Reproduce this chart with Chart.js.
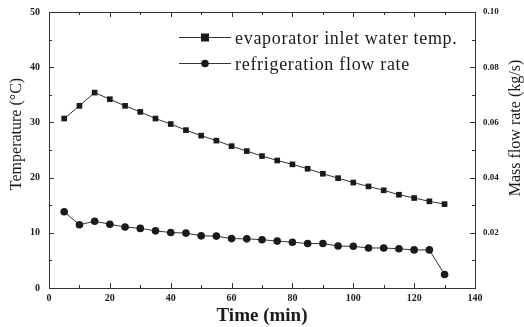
<!DOCTYPE html>
<html>
<head>
<meta charset="utf-8">
<script src="https://cdn.jsdelivr.net/npm/chart.js@4.4.1/dist/chart.umd.min.js"></script>
<style>
  html, body { margin: 0; padding: 0; background: #fff; }
  #wrap { width: 524px; height: 327px; }
</style>
</head>
<body>
<div id="wrap"><canvas id="chart"></canvas></div>
<script>
// time in minutes
const times = [5, 10, 15, 20, 25, 30, 35, 40, 45, 50, 55, 60, 65, 70, 75, 80, 85, 90, 95, 100, 105, 110, 115, 120, 125, 130];
// evaporator inlet water temp (C)
const inletTemp = [30.7, 33.0, 35.4, 34.2, 33.0, 31.9, 30.7, 29.7, 28.6, 27.6, 26.7, 25.7, 24.8, 23.9, 23.1, 22.4, 21.6, 20.7, 19.9, 19.1, 18.4, 17.7, 16.9, 16.3, 15.7, 15.2];
// refrigeration flow rate (kg/s)
const flowRate = [0.0276, 0.0229, 0.0242, 0.0231, 0.0221, 0.0216, 0.0207, 0.0201, 0.0199, 0.0189, 0.0188, 0.0179, 0.0178, 0.0175, 0.0170, 0.0166, 0.0161, 0.0161, 0.0152, 0.0151, 0.0145, 0.0145, 0.0142, 0.0138, 0.0138, 0.0049];

const seriesNames = ['evaporator inlet water temp.', 'refrigeration flow rate'];
const xTicks = [0, 20, 40, 60, 80, 100, 120, 140];
const tempTicks = [0, 10, 20, 30, 40, 50];
const flowTicks = [0.02, 0.04, 0.06, 0.08, 0.10];

const SERIF = '"Liberation Serif", "DejaVu Serif", serif';
const INK = '#1a1a1a';

// frame + inward ticks on all four sides, and the two side titles
const framePlugin = {
  id: 'frame',
  afterDraw(chart) {
    const { ctx, chartArea: a, scales } = chart;
    ctx.save();
    ctx.strokeStyle = '#333';
    ctx.lineWidth = 1;
    ctx.strokeRect(a.left + 0.5, a.top + 0.5, a.right - a.left, a.bottom - a.top);
    ctx.beginPath();
    for (let v = 0; v <= 140; v += 10) {
      const px = Math.round(scales.x.getPixelForValue(v)) + 0.5;
      const len = v % 20 === 0 ? 5 : 3;
      ctx.moveTo(px, a.bottom); ctx.lineTo(px, a.bottom - len);
      ctx.moveTo(px, a.top); ctx.lineTo(px, a.top + len);
    }
    for (let v = 0; v <= 50; v += 5) {
      const py = Math.round(scales.y.getPixelForValue(v)) + 0.5;
      const len = v % 10 === 0 ? 5 : 3;
      ctx.moveTo(a.left, py); ctx.lineTo(a.left + len, py);
    }
    for (let i = 0; i <= 10; i++) {
      const py = Math.round(scales.y2.getPixelForValue(i / 100)) + 0.5;
      const len = i % 2 === 0 ? 5 : 3;
      ctx.moveTo(a.right, py); ctx.lineTo(a.right - len, py);
    }
    ctx.stroke();

    // both side titles read bottom to top
    ctx.fillStyle = INK;
    ctx.font = '16px ' + SERIF;
    ctx.textAlign = 'center';
    ctx.textBaseline = 'middle';
    const side = (text, x, y) => {
      ctx.save();
      ctx.translate(x, y);
      ctx.rotate(-Math.PI / 2);
      ctx.fillText(text, 0, 0);
      ctx.restore();
    };
    side('Temperature (°C)', 17, 134);
    side('Mass flow rate (kg/s)', 516, 128);
    ctx.restore();
  }
};

// legend inside the plot, top right
const legendPlugin = {
  id: 'innerLegend',
  afterDraw(chart) {
    const { ctx } = chart;
    ctx.save();
    ctx.font = '18px ' + SERIF;
    ctx.letterSpacing = '0.7px';
    ctx.textBaseline = 'alphabetic';
    chart.data.datasets.forEach((ds, i) => {
      const y = 37 + i * 26;
      ctx.strokeStyle = '#333';
      ctx.lineWidth = 1;
      ctx.beginPath();
      ctx.moveTo(179, y + 0.5); ctx.lineTo(231, y + 0.5);
      ctx.stroke();
      ctx.fillStyle = INK;
      if (ds.pointStyle === 'rect') {
        ctx.fillRect(201, y - 3.5, 8, 8);
      } else {
        ctx.beginPath();
        ctx.arc(205, y + 0.5, 3.8, 0, Math.PI * 2);
        ctx.fill();
      }
      ctx.fillText(ds.label, 235, y + 7);
    });
    ctx.restore();
  }
};

// fixed side widths, and no extra room reserved for end labels
const fixSide = w => s => {
  s.width = w;
  s.paddingTop = 0;
  s.paddingBottom = 0;
};

const ctx = document.getElementById('chart').getContext('2d');
new Chart(ctx, {
  type: 'line',
  data: {
    datasets: [
      {
        label: seriesNames[0],
        data: times.map((t, i) => ({ x: t, y: inletTemp[i] })),
        yAxisID: 'y',
        borderColor: '#333',
        borderWidth: 1,
        pointStyle: 'rect',
        pointRadius: 4,
        pointBackgroundColor: INK,
        pointBorderColor: INK,
        pointBorderWidth: 0,
        tension: 0
      },
      {
        label: seriesNames[1],
        data: times.map((t, i) => ({ x: t, y: flowRate[i] })),
        yAxisID: 'y2',
        borderColor: '#333',
        borderWidth: 1,
        pointStyle: 'circle',
        pointRadius: 3.8,
        pointBackgroundColor: INK,
        pointBorderColor: INK,
        pointBorderWidth: 0,
        tension: 0
      }
    ]
  },
  options: {
    responsive: true,
    maintainAspectRatio: false,
    animation: false,
    layout: { padding: { top: 12, left: 0, right: 0, bottom: 0 } },
    plugins: {
      legend: { display: false },
      tooltip: { enabled: false }
    },
    scales: {
      x: {
        type: 'linear',
        min: 0,
        max: 140,
        afterBuildTicks: s => { s.ticks = xTicks.map(v => ({ value: v })); },
        ticks: { font: { family: SERIF, size: 10, weight: 'bold' }, color: INK, padding: 4, maxRotation: 0 },
        grid: { display: false, drawTicks: false },
        border: { display: false },
        title: {
          display: true,
          text: 'Time (min)',
          font: { family: SERIF, size: 19, weight: 'bold' },
          color: INK,
          padding: { top: 0, bottom: 0 }
        },
        afterFit: s => { s.height = 39; }
      },
      y: {
        position: 'left',
        min: 0,
        max: 50,
        afterBuildTicks: s => { s.ticks = tempTicks.map(v => ({ value: v })); },
        ticks: { font: { family: SERIF, size: 10, weight: 'bold' }, color: INK, padding: 9 },
        grid: { display: false, drawTicks: false },
        border: { display: false },
        afterFit: fixSide(49)
      },
      y2: {
        position: 'right',
        min: 0,
        max: 0.1,
        afterBuildTicks: s => { s.ticks = flowTicks.map(v => ({ value: v })); },
        ticks: {
          font: { family: SERIF, size: 9, weight: 'bold' },
          color: INK,
          padding: 8,
          callback: v => v.toFixed(2)
        },
        grid: { display: false, drawTicks: false },
        border: { display: false },
        afterFit: fixSide(49)
      }
    }
  },
  plugins: [framePlugin, legendPlugin]
});
</script>
</body>
</html>
